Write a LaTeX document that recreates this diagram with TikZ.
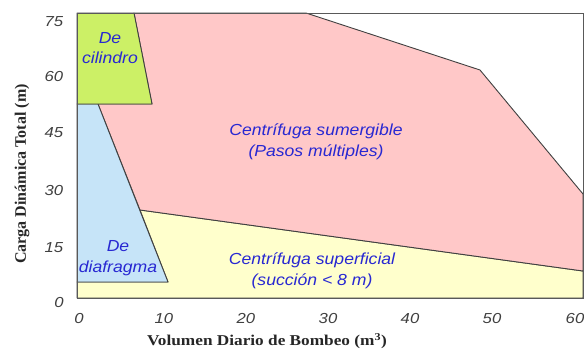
\documentclass[tikz,border=0pt]{standalone}
\usepackage{fontspec}
\setmainfont{Liberation Serif}
\setsansfont{Liberation Sans}
\definecolor{lblblue}{RGB}{40,40,210}
\definecolor{pumpyellow}{RGB}{255,255,204}
\definecolor{pumppink}{RGB}{255,200,200}
\definecolor{pumpblue}{RGB}{198,228,248}
\definecolor{pumpgreen}{RGB}{204,240,102}
\begin{document}
\begin{tikzpicture}[x=1pt,y=-1pt,
  region/.style={draw=black!75,line width=0.9pt,line join=round},
  lbl/.style={font=\sffamily\itshape\fontsize{16}{20.5}\selectfont,text=lblblue,align=center,inner sep=0pt,xscale=1.1},
  tick/.style={font=\sffamily\itshape\fontsize{14.5}{16}\selectfont,text=black!75,inner sep=0pt,xscale=1.15},
  axtitle/.style={font=\bfseries\fontsize{15}{17}\selectfont,text=black!85,inner sep=0pt}]
\useasboundingbox (0,0) rectangle (584,351);
\fill[white] (0,0) rectangle (584,351);
% key points
\coordinate (TL) at (77,13);
\coordinate (TR) at (583,13);
\coordinate (BL) at (77,298);
\coordinate (BR) at (583,298);
\coordinate (g1) at (134,13);
\coordinate (g2) at (152,104);
\coordinate (g3) at (77,104);
\coordinate (b1) at (98,104);
\coordinate (b2) at (140,210);
\coordinate (b3) at (168,282);
\coordinate (b4) at (77,282);
\coordinate (p1) at (306,13);
\coordinate (p2) at (480,70);
\coordinate (p3) at (583,194);
\coordinate (y1) at (583,271);
% regions
\draw[region,fill=pumpyellow] (BL) -- (b4) -- (b3) -- (b2) -- (y1) -- (BR) -- cycle;
\draw[region,fill=pumppink] (g1) -- (p1) -- (p2) -- (p3) -- (y1) -- (b2) -- (b1) -- (g2) -- cycle;
\draw[region,fill=pumpblue] (g3) -- (b1) -- (b3) -- (b4) -- cycle;
\draw[region,fill=pumpgreen] (TL) -- (g1) -- (g2) -- (g3) -- cycle;
% frame
\draw[draw=black!65,line width=1pt] (TL) rectangle (BR);
% region labels
\node[lbl] (cil) at (110,48) {De\\cilindro};
\node[lbl] (sum) at (316,142) {Centrífuga sumergible\\(Pasos múltiples)};
\node[lbl] (sup) at (312,271) {Centrífuga superficial\\(succión < 8 m)};
\node[lbl] (dia) at (118,258) {De\\diafragma};
% y ticks
\node[tick] (y75) at (54,22) {75};
\node[tick] (y60) at (54,77) {60};
\node[tick] (y45) at (54,133) {45};
\node[tick] (y30) at (54,191) {30};
\node[tick] (y15) at (54,248) {15};
\node[tick] (y0) at (59,303) {0};
% x ticks
\node[tick] (x0) at (79,319) {0};
\node[tick] (x10) at (164,319) {10};
\node[tick] (x20) at (246,319) {20};
\node[tick] (x30) at (328,319) {30};
\node[tick] (x40) at (410,319) {40};
\node[tick] (x50) at (492,319) {50};
\node[tick] (x60) at (575,319) {60};
% axis titles
\node[axtitle,rotate=90,font=\bfseries\fontsize{16}{18}\selectfont] (ytitle) at (22,174) {Carga Dinámica Total (m)};
\node[axtitle,xscale=1.15] (xtitle) at (267,341) {Volumen Diario de Bombeo (m\textsuperscript{3})};
\end{tikzpicture}
\end{document}
